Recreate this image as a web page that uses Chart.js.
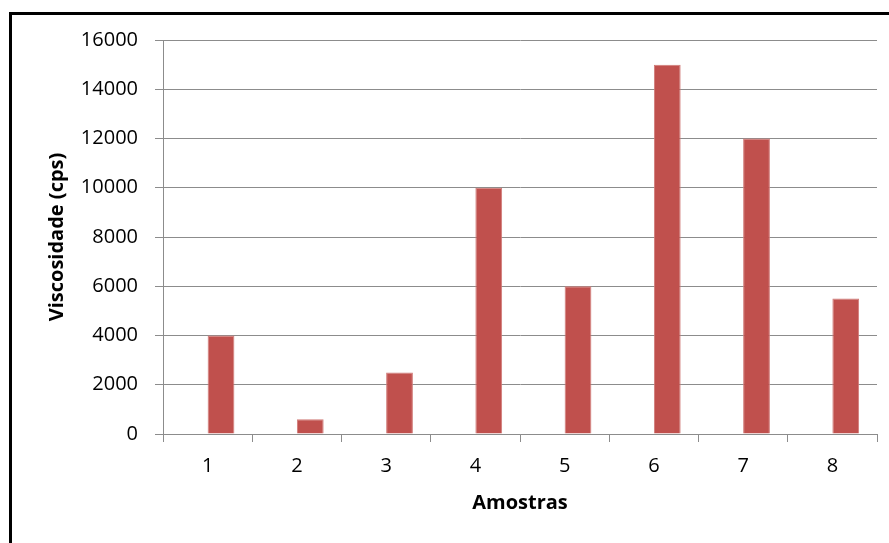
<!DOCTYPE html>
<html>
<head>
<meta charset="utf-8">
<script src="https://cdn.jsdelivr.net/npm/chart.js@4"></script>
<style>
body{margin:0;background:#fff;}
#wrap{position:relative;width:889px;height:543px;}
</style>
</head>
<body>
<div id="wrap"><canvas id="viscosidade_chart" width="889" height="543"></canvas></div>
<script>
// dados
const amostras=['1','2','3','4','5','6','7','8'];
const serie_vazia=[null,null,null,null,null,null,null,null];
const viscosidade=[4000,600,2500,10000,6000,15000,12000,5500];
const y_ticks=[0,2000,4000,6000,8000,10000,12000,14000,16000];

const ctx=document.getElementById("viscosidade_chart").getContext("2d");

const gridColor='#8c8c8c';
const fontTicks={family:'"Open Sans", Lato, sans-serif',size:20};
const fontTitle={family:'"Open Sans", Lato, sans-serif',size:20,weight:'bold'};

//moldura preta em volta do grafico
const frame={
	id:'frame',
	afterDraw(chart){
		const c=chart.ctx;
		c.save();
		c.strokeStyle='#000';
		c.lineWidth=3;
		c.beginPath();
		c.moveTo(10.5,900);
		c.lineTo(10.5,13.5);
		c.lineTo(900,13.5);
		c.stroke();
		c.restore();
	}
};

new Chart(ctx,{
	type:'bar',
	data:{
		labels:amostras,
		datasets:[{
			label:'vazio',
			data:serie_vazia,
			backgroundColor:'#4F81BD'
		},{
			label:'Viscosidade',
			data:viscosidade,
			backgroundColor:'#C0504D',
			borderColor:'#d07a77',
			borderWidth:{top:1,left:1,right:1,bottom:0}
		}]
	},
	options:{
		responsive:false,
		animation:false,
		layout:{padding:{left:40,top:40,right:12,bottom:20}},
		plugins:{legend:{display:false},tooltip:{enabled:false}},
		datasets:{bar:{categoryPercentage:0.6,barPercentage:1}},
		scales:{
			x:{
				grid:{drawOnChartArea:false,color:gridColor,tickLength:8,offset:true},
				border:{color:gridColor,width:1},
				ticks:{color:'#000',font:fontTicks,padding:12},
				title:{display:true,text:'Amostras',color:'#000',font:fontTitle,padding:{top:0,bottom:8}},
				afterFit(scale){scale.height=89;}
			},
			y:{
				min:0,max:16000,
				afterBuildTicks(scale){scale.ticks=y_ticks.map(v=>({value:v}));},
				grid:{color:gridColor,tickLength:8},
				border:{color:gridColor,width:1},
				ticks:{color:'#000',font:fontTicks,padding:17,callback:v=>String(v)},
				title:{display:true,text:'Viscosidade (cps)',color:'#000',font:fontTitle,padding:{top:5,bottom:0}},
				afterFit(scale){scale.width=123;}
			}
		}
	},
	plugins:[frame]
});
</script>
</body>
</html>
